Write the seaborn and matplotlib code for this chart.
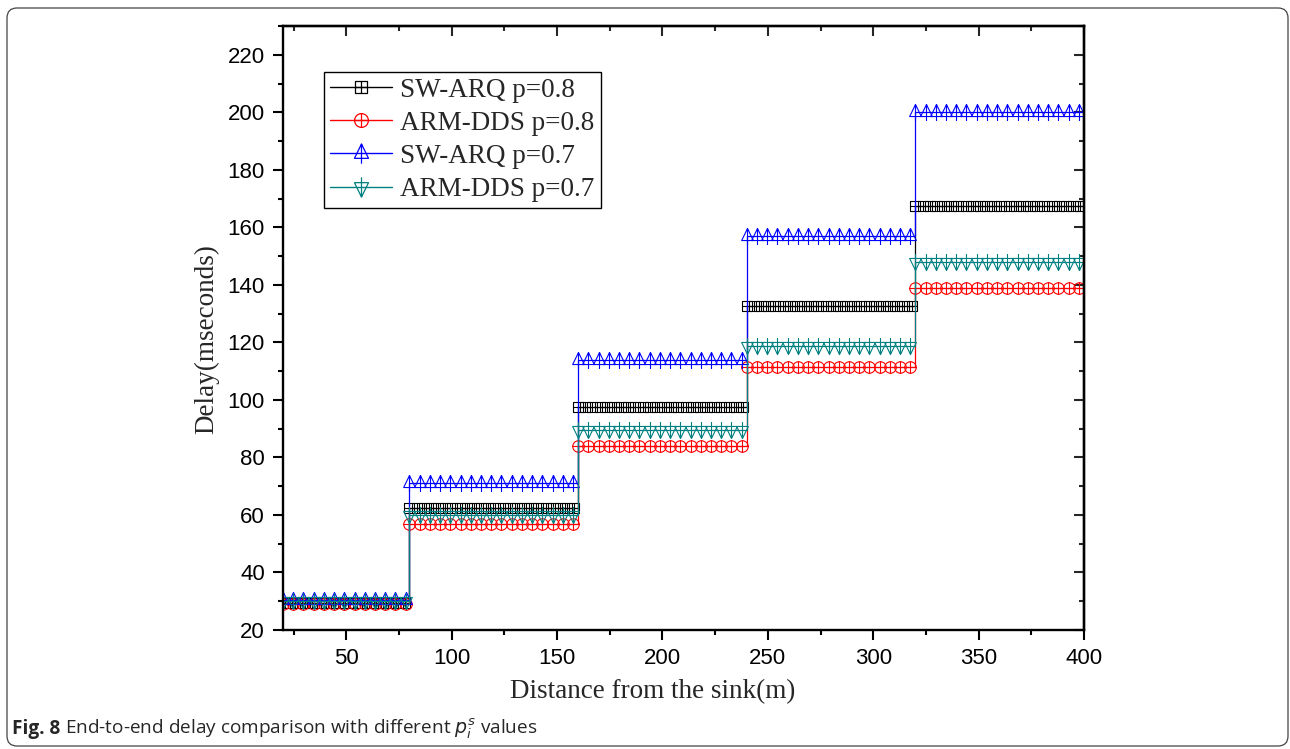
import numpy as np
import pandas as pd
import matplotlib
matplotlib.use("Agg")
import matplotlib.pyplot as plt
import seaborn as sns
from matplotlib.path import Path
from matplotlib.lines import Line2D
from matplotlib.patches import FancyBboxPatch
from matplotlib.ticker import MultipleLocator

# Hop boundaries along the path to the sink (m)
segment_edges = [20, 80, 160, 240, 320, 400]

# Delay level reached on each hop segment (ms)
sw_arq_p08 = [29.5, 62.5, 97.5, 132.5, 167.5]
arm_dds_p08 = [29.2, 57.0, 84.0, 111.5, 139.0]
sw_arq_p07 = [30.5, 71.0, 114.0, 157.0, 200.0]
arm_dds_p07 = [30.0, 60.0, 89.5, 118.8, 148.0]

series_names = ["SW-ARQ p=0.8", "ARM-DDS p=0.8", "SW-ARQ p=0.7", "ARM-DDS p=0.7"]
series_levels = [sw_arq_p08, arm_dds_p08, sw_arq_p07, arm_dds_p07]
series_colors = ["#000000", "#FF0000", "#0000FF", "#008080"]
marker_gap = [3.4, 4.85, 4.85, 4.85]

x_ticks = [50, 100, 150, 200, 250, 300, 350, 400]
y_ticks = [20, 40, 60, 80, 100, 120, 140, 160, 180, 200, 220]

DPI = 100
PX = 72.0 / DPI  # points per pixel


def compound(*pieces):
    return Path.make_compound_path(*[Path(v, c) for v, c in pieces])


M, L, C = Path.MOVETO, Path.LINETO, Path.CLOSEPOLY
cross = [([(-1, 0), (1, 0)], [M, L]), ([(0, -1), (0, 1)], [M, L])]
square_plus = compound(([(-1, -1), (1, -1), (1, 1), (-1, 1), (-1, -1)], [M, L, L, L, C]), *cross)
circ = Path.unit_circle()
circle_plus = Path.make_compound_path(circ, *[Path(v, c) for v, c in cross])
tri_up = compound(([(0, 7.5), (5.5, -3.8), (-5.5, -3.8), (0, 7.5)], [M, L, L, C]),
                  ([(0, 7.5), (0, -8)], [M, L]))
tri_down = compound(([(0, -7.5), (5.5, 3.8), (-5.5, 3.8), (0, -7.5)], [M, L, L, C]),
                    ([(0, -7.5), (0, 8)], [M, L]))
series_markers = [square_plus, circle_plus, tri_up, tri_down]
marker_px = [10, 11.5, 17, 17]

sns.set_style("ticks")
plt.rcParams["font.family"] = ["Liberation Sans", "DejaVu Sans"]
plt.rcParams["mathtext.fontset"] = "dejavusans"

fig = plt.figure(figsize=(12.9, 7.49), dpi=DPI)
ax = fig.add_axes([283 / 1290, 1 - 630 / 749, (1084 - 283) / 1290, (630 - 26) / 749])

handles = []
for name, levels, col, mk, mpx, gap in zip(series_names, series_levels, series_colors,
                                           series_markers, marker_px, marker_gap):
    steps = pd.DataFrame({"distance": segment_edges, "delay": list(levels) + [levels[-1]]})
    sns.lineplot(data=steps, x="distance", y="delay", drawstyle="steps-post", color=col,
                 linewidth=0.9, estimator=None, sort=False, ax=ax, legend=False)
    mx, my = [], []
    n_seg = len(levels)
    for i, lev in enumerate(levels):
        a, b = segment_edges[i], segment_edges[i + 1]
        stop = b + 0.1 if i == n_seg - 1 else b - 1.0
        pts = np.arange(a, stop, gap)
        mx.extend(pts)
        my.extend([lev] * len(pts))
    ax.plot(mx, my, linestyle="none", marker=mk, markersize=mpx * PX,
            markerfacecolor="none", markeredgecolor=col, markeredgewidth=0.8)
    handles.append(Line2D([], [], color=col, linewidth=1.0, alpha=1, marker=mk,
                          markersize=mpx * PX * 1.2, markerfacecolor="none",
                          markeredgecolor=col, markeredgewidth=0.9))

ax.set_xlim(20, 400)
ax.set_ylim(20, 230)
ax.set_xticks(x_ticks)
ax.set_yticks(y_ticks)
ax.xaxis.set_minor_locator(MultipleLocator(25))
ax.yaxis.set_minor_locator(MultipleLocator(10))
ax.tick_params(which="both", direction="out", width=1.5, colors="black",
               labelsize=16, pad=6, top=False, right=False)
ax.tick_params(which="major", length=7)
ax.tick_params(which="minor", length=3.6)
for sp in ax.spines.values():
    sp.set_visible(True)
    sp.set_linewidth(1.7)
    sp.set_color("black")

top = ax.secondary_xaxis("top")
top.set_xticks(x_ticks)
top.xaxis.set_minor_locator(MultipleLocator(25))
top.tick_params(which="both", direction="in", width=1.5, labeltop=False)
top.tick_params(which="major", length=7)
top.tick_params(which="minor", length=3.6)
top.spines["top"].set_linewidth(1.7)

right = ax.secondary_yaxis("right")
right.set_yticks(y_ticks)
right.yaxis.set_minor_locator(MultipleLocator(10))
right.tick_params(which="both", direction="in", width=1.5, labelright=False)
right.tick_params(which="major", length=7)
right.tick_params(which="minor", length=3.6)
right.spines["right"].set_linewidth(1.7)

serif = ["Liberation Serif", "DejaVu Serif"]
ax.set_xlabel("Distance from the sink(m)", fontsize=19.5, family=serif, labelpad=6)
ax.xaxis.set_label_coords(0.462, -0.082)
ax.set_ylabel("Delay(mseconds)", fontsize=19.5, family=serif)
ax.yaxis.set_label_coords(-0.079, 0.482)

leg = ax.legend(handles=handles, labels=series_names, loc="upper left",
                bbox_to_anchor=(0.0512, 0.9243), borderaxespad=0, prop={"family": serif, "size": 19.5},
                frameon=True, fancybox=False, edgecolor="black", framealpha=1,
                handlelength=2.3, handletextpad=0.3, labelspacing=0.3, borderpad=0.22,
                numpoints=1)
leg.get_frame().set_linewidth(1.0)

# Caption and rounded outer frame
frame = FancyBboxPatch((7, 749 - 746), 1281, 738, boxstyle="round,pad=0,rounding_size=10",
                       transform=None, facecolor="none", edgecolor="#444444", linewidth=0.9)
fig.patches.append(frame)

cap_font = ["Open Sans", "DejaVu Sans"]
fig_tag = fig.text(12 / 1290, 1 - 729 / 749, "Fig. 8", fontsize=13.7, weight="bold",
                   family=cap_font, va="center", ha="left")
fig.canvas.draw()
bb = fig_tag.get_window_extent(fig.canvas.get_renderer())
fig.text((bb.x1 + 5) / 1290, 1 - 729 / 749,
         r"End-to-end delay comparison with different $p_i^s$ values",
         fontsize=13.7, family=cap_font, va="center", ha="left")

fig.savefig("out.png", dpi=DPI)
